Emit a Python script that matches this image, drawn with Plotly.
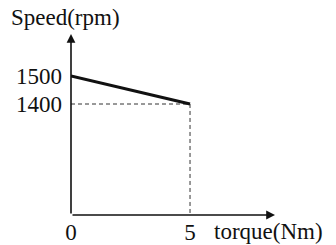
import plotly.graph_objects as go

torque = [0, 5]
speed = [1500, 1400]
x_ticks = [0, 5]
x_ticktext = ["0", "5"]
y_ticks = [1400, 1500]
y_ticktext = ["1400", "1500"]
x_label = "torque(Nm)"
y_label = "Speed(rpm)"

XMIN, XMAX = 0, 8.57
YMIN, YMAX = 1003.6, 1650

font = dict(family="Liberation Serif, DejaVu Serif, serif", size=23, color="#111")

fig = go.Figure()
# dashed guides
fig.add_trace(go.Scatter(x=[torque[0], torque[1], torque[1]], y=[speed[1], speed[1], YMIN],
                         mode="lines", line=dict(color="#333", width=1, dash="4px,3px"),
                         hoverinfo="skip", showlegend=False))
# main line
fig.add_trace(go.Scatter(x=torque, y=speed, mode="lines",
                         line=dict(color="#111", width=3), showlegend=False))

# axes arrows
fig.add_annotation(x=XMAX, y=YMIN, ax=XMIN, ay=YMIN, xref="x", yref="y", axref="x", ayref="y",
                   showarrow=True, arrowhead=2, arrowsize=1.1, arrowwidth=1.6, arrowcolor="#111", text="")
fig.add_annotation(x=XMIN, y=YMAX, ax=XMIN, ay=YMIN, xref="x", yref="y", axref="x", ayref="y",
                   showarrow=True, arrowhead=2, arrowsize=1.1, arrowwidth=1.6, arrowcolor="#111", text="")

fig.add_annotation(text=y_label, x=0, y=1.0, xref="paper", yref="paper", xshift=-62, yshift=17,
                   xanchor="left", yanchor="middle", showarrow=False, font=font)
fig.add_annotation(text=x_label, x=5, y=0, xref="x", yref="paper", xshift=22, yshift=-16,
                   xanchor="left", yanchor="middle", showarrow=False, font=font)

fig.update_xaxes(range=[XMIN, XMAX], tickvals=x_ticks, ticktext=x_ticktext, showgrid=False,
                 zeroline=False, showline=False, ticks="", tickfont=font, ticklabelstandoff=1,
                 automargin=False)
fig.update_yaxes(range=[YMIN, YMAX], tickvals=y_ticks, ticktext=y_ticktext, showgrid=False,
                 zeroline=False, showline=False, ticks="", tickfont=font, ticklabelstandoff=8,
                 automargin=False)

fig.update_layout(width=336, height=245, margin=dict(l=71, r=61, t=34, b=30),
                  plot_bgcolor="white", paper_bgcolor="white")
fig.write_html("out.html", config={"displayModeBar": False},
               post_script="document.body.style.margin='0';document.body.style.overflow='hidden';")
